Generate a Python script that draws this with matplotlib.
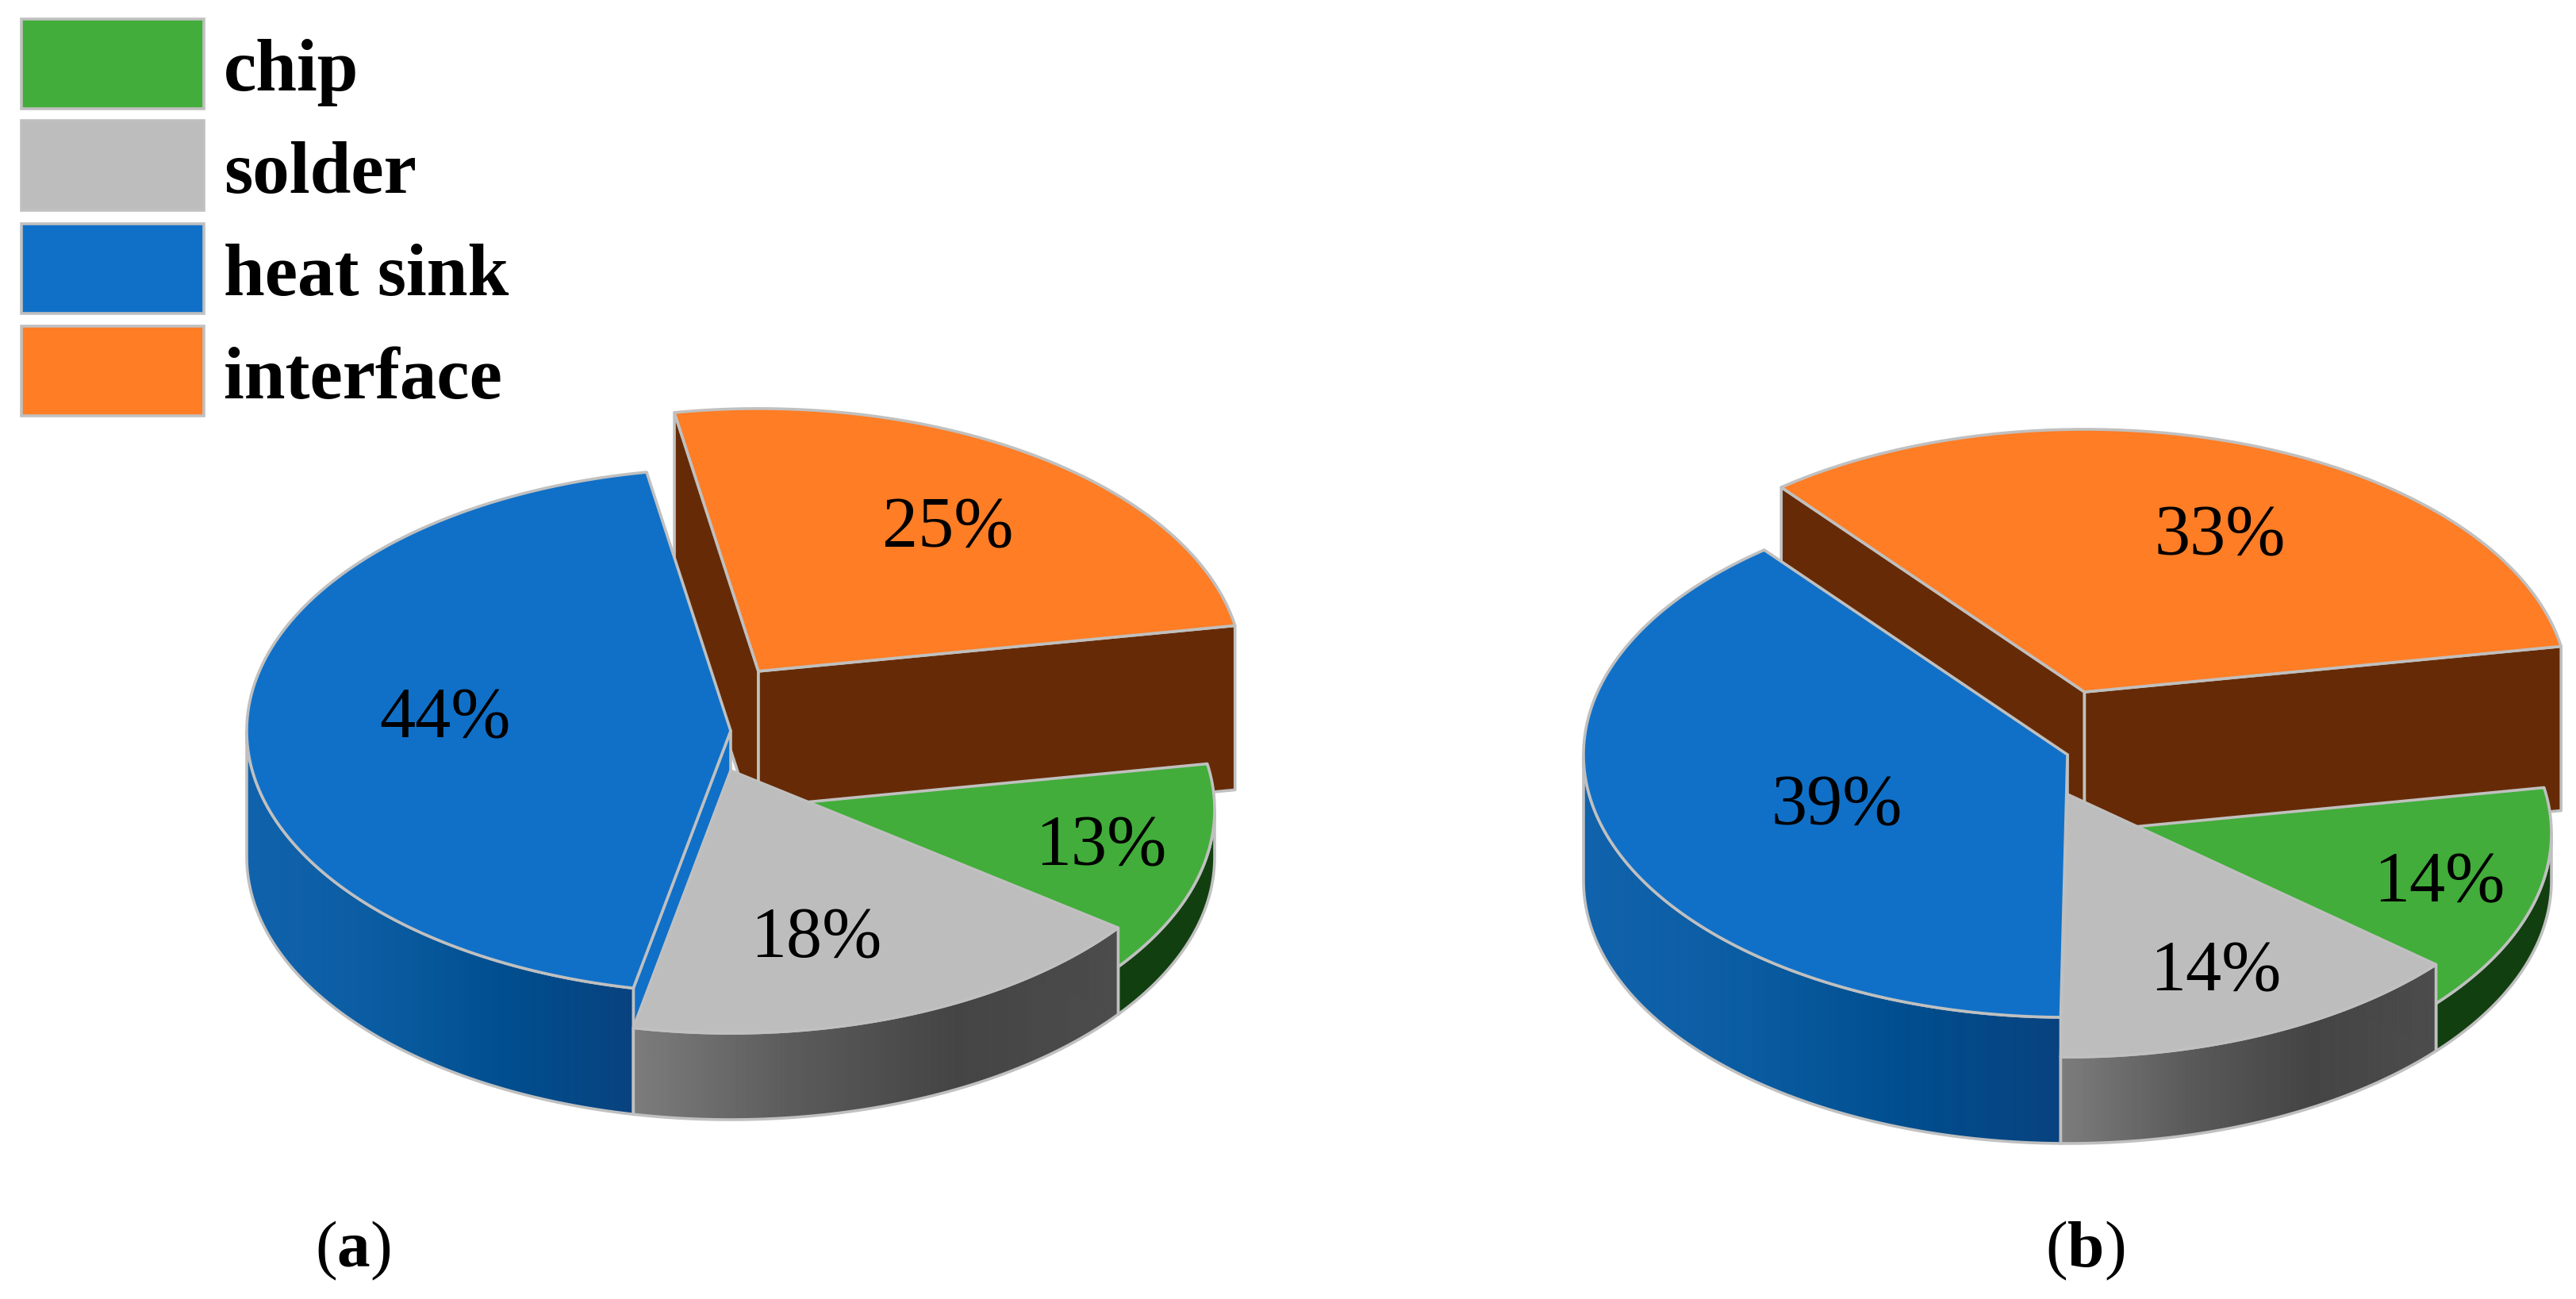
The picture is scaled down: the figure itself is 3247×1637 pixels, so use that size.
import numpy as np
import matplotlib
matplotlib.use("Agg")
import matplotlib.pyplot as plt
from matplotlib.patches import Polygon, Rectangle
from matplotlib.collections import PolyCollection
from matplotlib.colors import LinearSegmentedColormap

plt.rcParams["font.family"] = ["Liberation Serif", "DejaVu Serif"]
plt.rcParams["mathtext.fontset"] = "custom"
plt.rcParams["mathtext.rm"] = "Liberation Serif"
plt.rcParams["mathtext.bf"] = "Liberation Serif:bold"

# data, same order as the legend
names = ["chip", "solder", "heat sink", "interface"]
values_a = [13, 18, 44, 25]
values_b = [14, 14, 39, 33]

# colours and slice thickness (the slices have different heights in the original)
top_colors = ["#42AD3A", "#BDBDBD", "#1070C8", "#FF7D25"]
face_colors = ["#123F10", "#4A4A4A", "#1070C8", "#662B06"]
side_stops = [["#123F10", "#123F10"],
              ["#7C7C7C", "#5A5A5A", "#444444", "#4C4C4C"],
              ["#1062AC", "#0A5CA2", "#004E8F", "#08427F"],
              ["#662B06", "#662B06"]]
heights = [60, 109, 159, 207]
edge = "#C0C0C0"
lw = 2.6

# panel layout in pixels
panel_a = dict(cx=921, cy=1080, rx=610, ry=331)
panel_b = dict(cx=2606, cy=1110, rx=610, ry=331)
text_xy_a = [(1388, 1068), (1029, 1184), (561, 907), (1195, 667)]
text_xy_b = [(3075, 1114), (2793, 1226), (2315, 1017), (2798, 677)]
START_ANGLE = 10
EXPLODE = 0.1

fig = plt.figure(figsize=(32.47, 16.37), dpi=100)
ax = fig.add_axes([0, 0, 1, 1])
ax.set_xlim(0, 3247)
ax.set_ylim(1637, 0)
ax.axis("off")


def rim(p, angles, h=0, dx=0, dy=0):
    rad = np.radians(angles)
    x = p["cx"] + dx + p["rx"] * np.cos(rad)
    y = p["cy"] + dy - h - p["ry"] * np.sin(rad)
    return np.column_stack([x, y])


def draw_slice(p, a1, a2, i, dx=0, dy=0):
    # a1 > a2, going clockwise
    h = heights[i]
    centre_top = np.array([p["cx"] + dx, p["cy"] + dy - h])
    centre_low = centre_top + [0, h]

    # cut faces, only the ones turned towards the viewer
    faces = []
    if np.cos(np.radians(a1)) < 0:
        faces.append(a1)
    if np.cos(np.radians(a2)) > 0:
        faces.append(a2)
    for a in faces:
        t = rim(p, np.array([a]), h, dx, dy)[0]
        face = [centre_top, t, t + [0, h], centre_low]
        ax.add_patch(Polygon(face, closed=True, fc=face_colors[i], ec=edge, lw=lw, joinstyle="round"))

    # outer wall, only the part facing the viewer
    a_hi = min(a1, 0)
    a_lo = max(a2, -180)
    if a_hi > a_lo:
        ang = np.linspace(a_hi, a_lo, 240)
        up = rim(p, ang, h, dx, dy)
        low = rim(p, ang, 0, dx, dy)
        strips = [[up[k], up[k + 1], low[k + 1], low[k]] for k in range(len(ang) - 1)]
        cmap = LinearSegmentedColormap.from_list("side", side_stops[i])
        mid = (up[:-1, 0] + up[1:, 0]) / 2
        # gradient runs left to right over the wall
        order = (mid - mid.min()) / (mid.max() - mid.min())
        pc = PolyCollection(strips, array=order, cmap=cmap, edgecolors="face", linewidths=0.8)
        ax.add_collection(pc)
        outline = np.vstack([up, low[::-1]])
        ax.add_patch(Polygon(outline, closed=True, fc="none", ec=edge, lw=lw, joinstyle="round"))

    # top
    ang = np.linspace(a1, a2, 300)
    top = np.vstack([centre_top, rim(p, ang, h, dx, dy)])
    ax.add_patch(Polygon(top, closed=True, fc=top_colors[i], ec=edge, lw=lw, joinstyle="round"))


def draw_pie(p, values, text_xy):
    # interface ends at START_ANGLE going anticlockwise, the rest goes clockwise from there
    sweep = np.array(values) * 3.6
    ends = START_ANGLE - np.cumsum(sweep[:3])
    chip = (START_ANGLE, ends[0])
    solder = (ends[0], ends[1])
    sink = (ends[1], ends[2])
    iface = (START_ANGLE + sweep[3], START_ANGLE)

    mid = np.radians((iface[0] + iface[1]) / 2)
    dx = EXPLODE * p["rx"] * np.cos(mid)
    dy = -EXPLODE * p["ry"] * np.sin(mid)

    draw_slice(p, iface[0], iface[1], 3, dx, dy)
    draw_slice(p, sink[0], sink[1], 2)
    draw_slice(p, chip[0], chip[1], 0)
    draw_slice(p, solder[0], solder[1], 1)

    for v, xy in zip(values, text_xy):
        ax.text(xy[0], xy[1], "%d%%" % v, fontsize=65, color="black", ha="center", va="center")


draw_pie(panel_a, values_a, text_xy_a)
draw_pie(panel_b, values_b, text_xy_b)

# legend drawn by hand to keep the tall stacked swatches
swatch_y = [22, 150, 280, 409]
text_y = [114, 243, 372, 502]
for i in range(4):
    ax.add_patch(Rectangle((27, swatch_y[i] + 2), 230, 113, fc=top_colors[i], ec=edge, lw=2.6))
    ax.text(282, text_y[i], names[i], fontsize=67, fontweight="bold", color="black", ha="left", va="baseline")

ax.text(445, 1596, r"$(\mathbf{a})$", fontsize=60, color="black", ha="center", va="baseline")
ax.text(2628, 1596, r"$(\mathbf{b})$", fontsize=60, color="black", ha="center", va="baseline")

fig.savefig("out.png", dpi=100, facecolor="white")
